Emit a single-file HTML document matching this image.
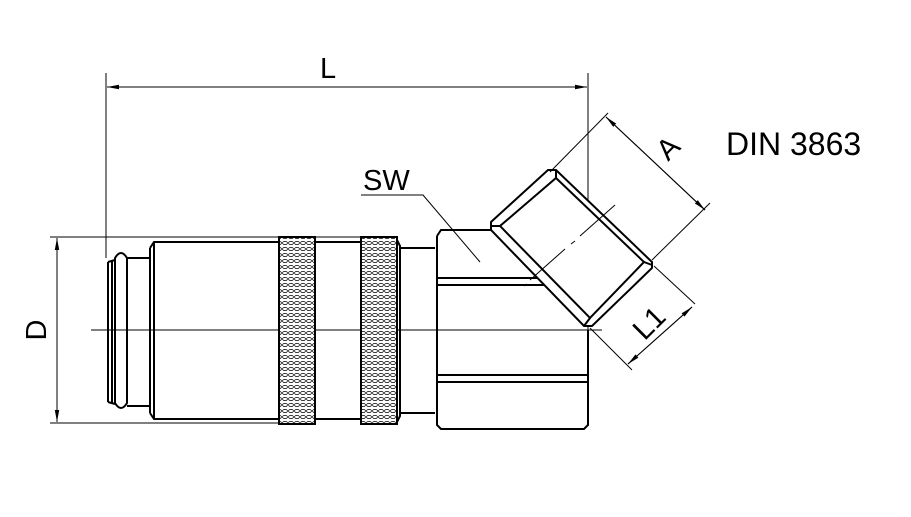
<!DOCTYPE html>
<html><head><meta charset="utf-8"><style>
html,body{margin:0;padding:0;background:#fff}
svg{display:block}
text{font-family:"Liberation Sans",sans-serif;fill:#000}
</style></head><body>
<svg width="911" height="517" viewBox="0 0 911 517" xmlns="http://www.w3.org/2000/svg">
<defs>
<pattern id="kn" x="0" y="0" width="6" height="6" patternUnits="userSpaceOnUse">
<rect width="6" height="6" fill="#fff"/>
<ellipse cx="3" cy="3" rx="2.4" ry="1.6" fill="none" stroke="#000" stroke-width="0.8"/>
</pattern>
<marker id="ar" markerWidth="12" markerHeight="6" refX="12" refY="3" orient="auto" markerUnits="userSpaceOnUse">
<path d="M0,0.8 L12,3 L0,5.2z" fill="#000"/></marker>
</defs>
<g stroke="#000" fill="none">
<line x1="106" y1="73" x2="106" y2="258" stroke-width="1"/>
<line x1="588" y1="73" x2="588" y2="330" stroke-width="1"/>
<line x1="107" y1="87" x2="587" y2="87" stroke-width="1" marker-end="url(#ar)"/>
<line x1="587" y1="87" x2="107" y2="87" stroke-width="1" marker-end="url(#ar)"/>
<line x1="50" y1="237" x2="360" y2="237" stroke-width="1"/>
<line x1="50" y1="423" x2="278" y2="423" stroke-width="1"/>
<line x1="57" y1="238" x2="57" y2="422" stroke-width="1" marker-end="url(#ar)"/>
<line x1="57" y1="422" x2="57" y2="238" stroke-width="1" marker-end="url(#ar)"/>
<line x1="91" y1="330" x2="602" y2="330" stroke-width="1"/>
<g stroke-width="2">
<path d="M108,262 L108,402 M108,262 L115,260 M108,402 L115,404"/>
<path d="M112,261 L112,403"/>
<path d="M115,258 Q121,248 127,258 L127,403 Q121,413 115,403 Z"/>
<path d="M127,258 L150,258 M127,406 L150,406"/>
<path d="M150,248 L154,242 L279,242 M150,413 L154,419 L279,419 M150,248 L150,413 M154,242 L154,419"/>
<rect x="279" y="237" width="36" height="187" fill="url(#kn)"/>
<path d="M315,242 L361,242 M315,419 L361,419"/>
<rect x="361" y="237" width="36" height="187" fill="url(#kn)"/>
<path d="M397,240 L400,246 L400,416 L397,422"/>
<path d="M400,248 L435,248 M400,413 L435,413"/>
<path d="M437,236 L441,230 L492,230 M437,236 L437,425 L441,429 L584,429 L588,425 L588,330"/>
<path d="M438,278 L545,278 M438,285 L550,285 M438,375 L587,375 M438,382 L587,382"/>
</g>
<g stroke-width="2">
<path d="M548,170 L556,170 L652,262 L652,268 L592,326 L584,326 L491,230 L491,222 Z" fill="#fff"/>
<path d="M556,178 L644,262 L590,318 L500,226 Z"/>
<path d="M556,170 L556,178 M652,265 L644,262 M584,326 L590,318 M491,226 L500,226"/>
</g>
<path d="M615,205 L580,236 M575,241 L571,244 M565,249 L530,280 M527,284 L524,286" stroke-width="1"/>
<line x1="550" y1="172" x2="608" y2="113" stroke-width="1"/>
<line x1="652" y1="260" x2="710" y2="203" stroke-width="1"/>
<line x1="606" y1="117" x2="705" y2="210" stroke-width="1" marker-end="url(#ar)"/>
<line x1="705" y1="210" x2="606" y2="117" stroke-width="1" marker-end="url(#ar)"/>
<line x1="590" y1="328" x2="632" y2="370" stroke-width="1"/>
<line x1="654" y1="266" x2="695" y2="304" stroke-width="1"/>
<line x1="628" y1="364" x2="692" y2="307" stroke-width="1" marker-end="url(#ar)"/>
<line x1="692" y1="307" x2="628" y2="364" stroke-width="1" marker-end="url(#ar)"/>
<path d="M361,195 L423,195 L480,262" stroke-width="1"/>
</g>
<text x="320" y="78" font-size="29">L</text>
<text x="363" y="190" font-size="29">SW</text>
<text x="726" y="155" font-size="32">DIN 3863</text>
<text transform="translate(46,330) rotate(-90)" font-size="29" text-anchor="middle">D</text>
<text transform="translate(675,155) rotate(-45)" font-size="29" text-anchor="middle">A</text>
<text transform="translate(656,330) rotate(-45)" font-size="29" text-anchor="middle">L1</text>
</svg>
</body></html>
